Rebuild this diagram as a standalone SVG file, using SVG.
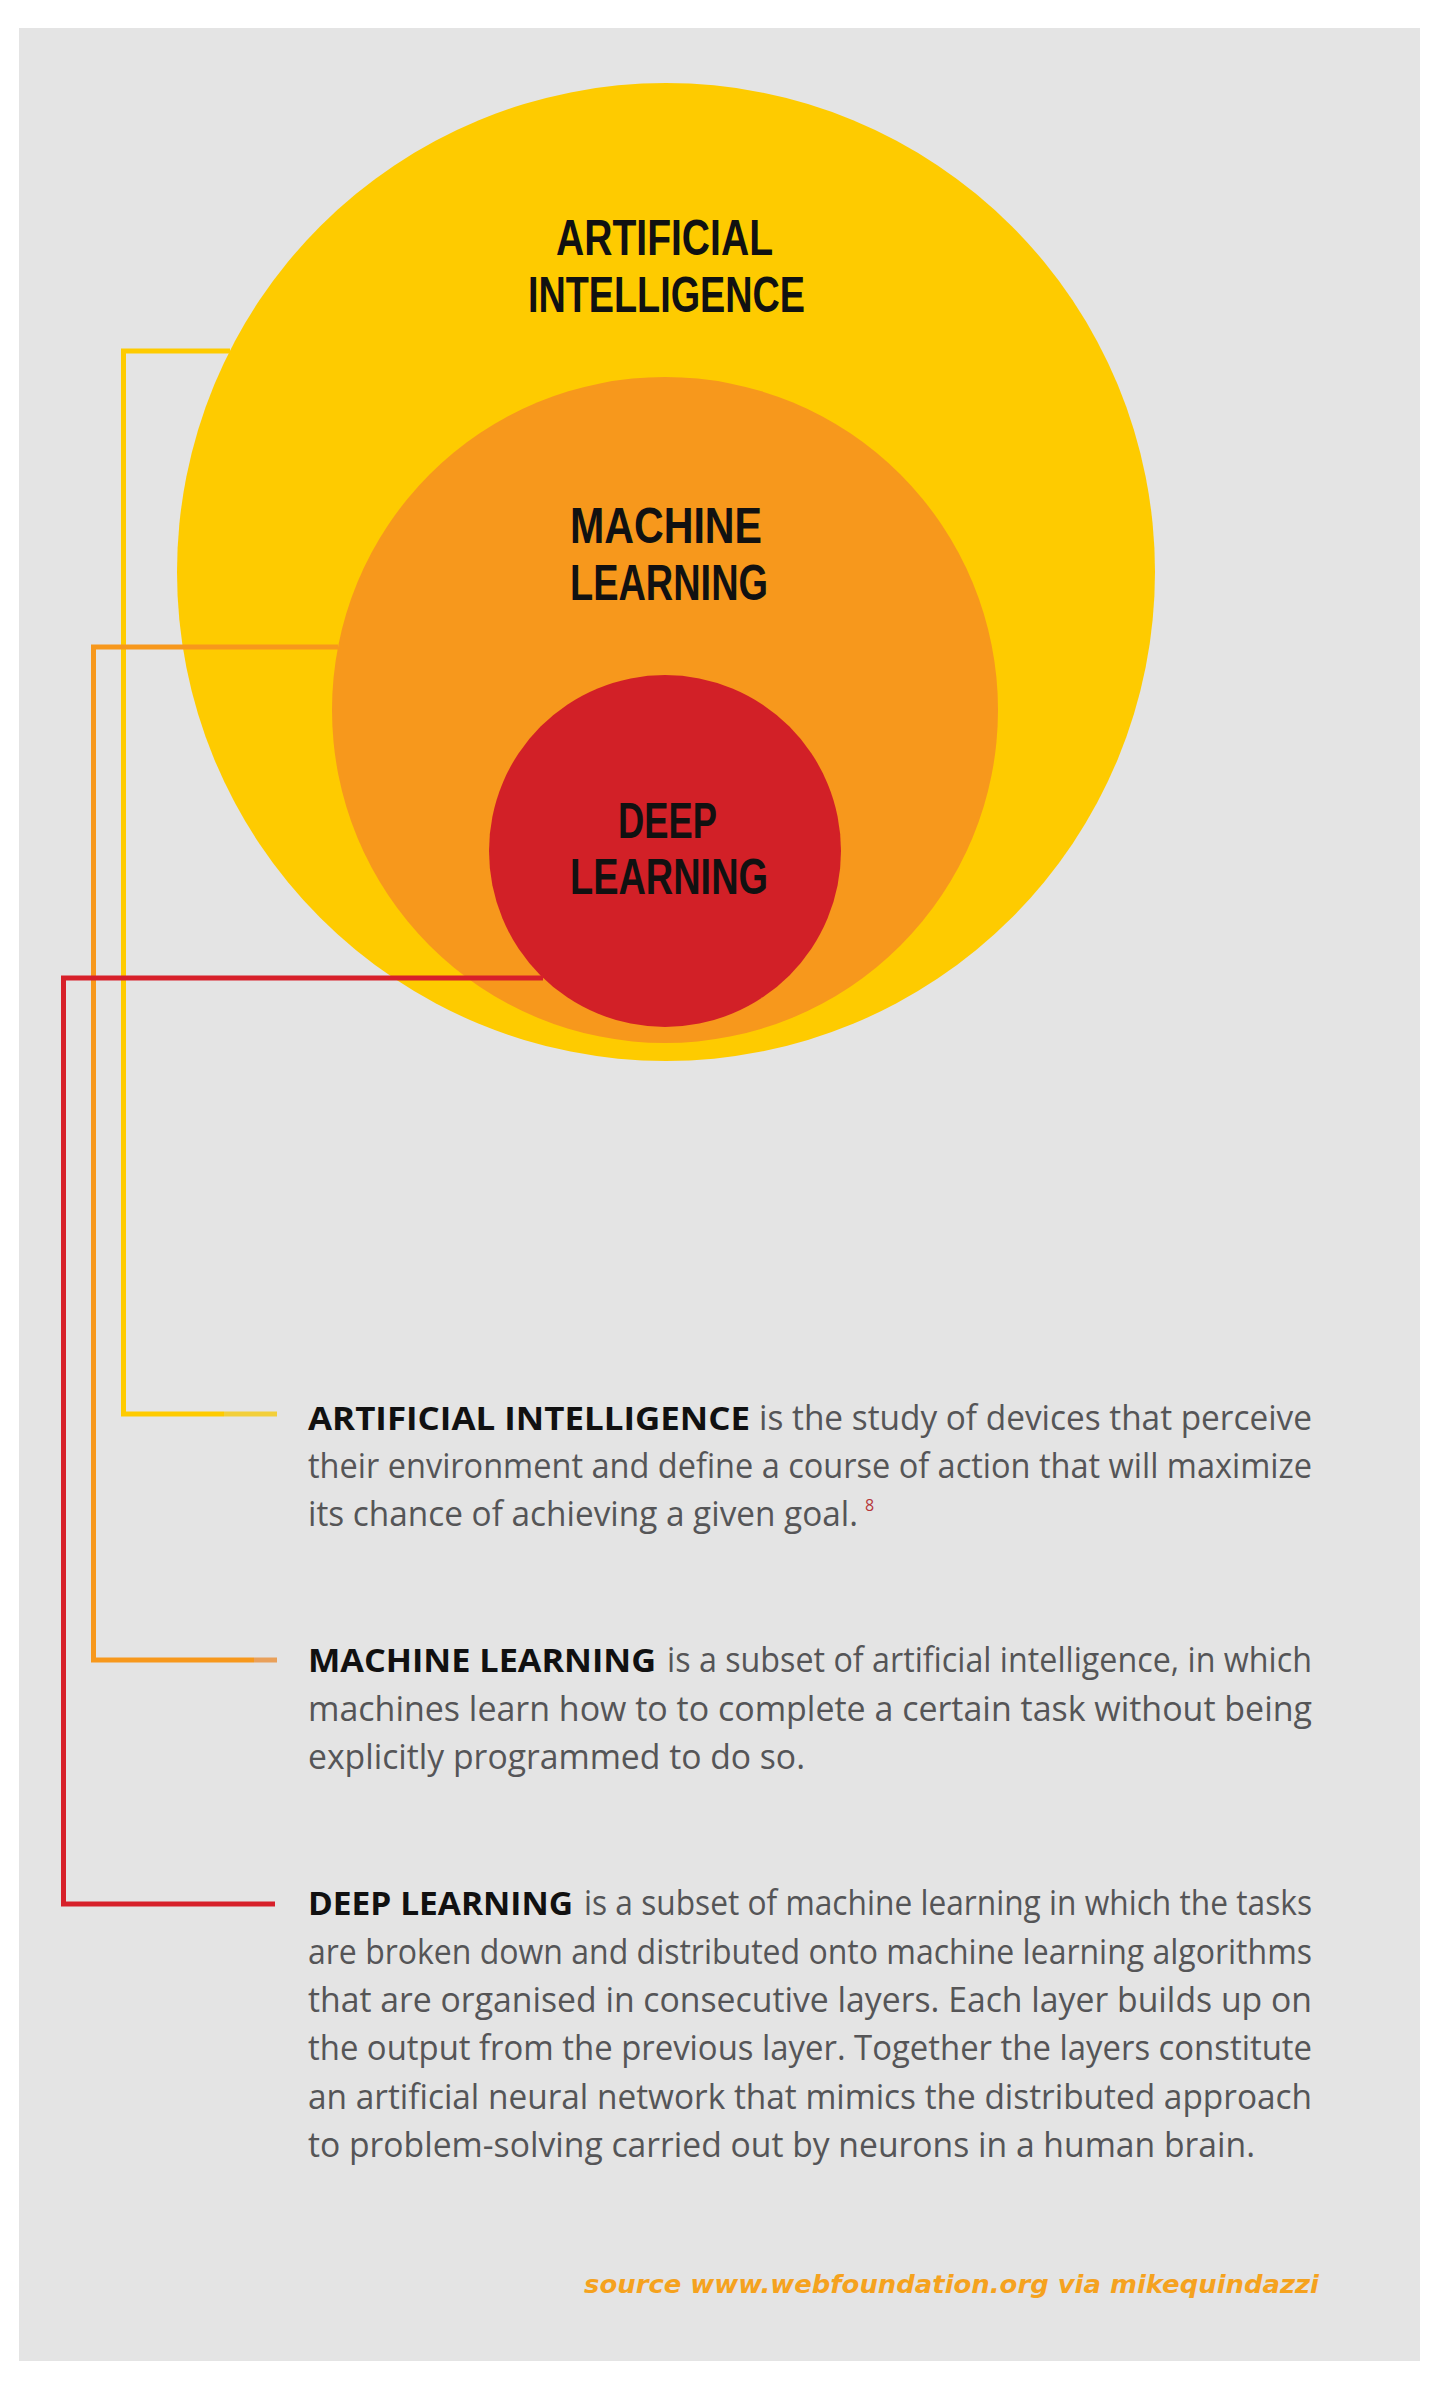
<svg xmlns="http://www.w3.org/2000/svg" width="1440" height="2385" viewBox="0 0 1440 2385">
<style>
.title{font-family:"Liberation Sans Narrow","Liberation Sans",sans-serif;font-weight:700;font-size:50px;fill:#111;}
.b{font-family:"Open Sans","Liberation Sans",sans-serif;font-weight:700;font-size:32px;fill:#111;}
.r{font-family:"Open Sans","Liberation Sans",sans-serif;font-weight:400;font-size:34px;fill:#555557;}
.sup{font-family:"Open Sans","Liberation Sans",sans-serif;font-size:16px;fill:#B5363A;}
.src{font-family:"DejaVu Sans","Liberation Sans",sans-serif;font-weight:700;font-style:italic;font-size:24px;fill:#F5A21E;}
.ln{fill:none;stroke-width:5;}
</style>
<rect x="0" y="0" width="1440" height="2385" fill="#ffffff"/>
<rect x="19" y="28" width="1401" height="2333" fill="#E4E4E4"/>

<g id="node-ai">
<circle cx="666" cy="572" r="489" fill="#FECB00"/>
<text class="title"><tspan x="556" y="255" textLength="217" lengthAdjust="spacingAndGlyphs">ARTIFICIAL</tspan><tspan x="528" y="312" textLength="277" lengthAdjust="spacingAndGlyphs">INTELLIGENCE</tspan></text>
</g>
<g id="node-ml">
<circle cx="665" cy="710" r="333" fill="#F7981C"/>
<text class="title"><tspan x="570" y="543" textLength="192" lengthAdjust="spacingAndGlyphs">MACHINE</tspan><tspan x="570" y="600" textLength="198" lengthAdjust="spacingAndGlyphs">LEARNING</tspan></text>
</g>
<g id="node-dl">
<circle cx="665" cy="851" r="176" fill="#D22027"/>
<text class="title"><tspan x="618" y="838" textLength="99" lengthAdjust="spacingAndGlyphs">DEEP</tspan><tspan x="570" y="894" textLength="198" lengthAdjust="spacingAndGlyphs">LEARNING</tspan></text>
</g>

<g id="connectors">
<polyline class="ln" stroke="#FECB00" points="230,351 123.5,351 123.5,1414 224,1414"/>
<line class="ln" stroke="#F2CF3A" x1="224" y1="1414" x2="277" y2="1414"/>
<polyline class="ln" stroke="#F7981C" points="338,647 93.5,647 93.5,1660 254,1660"/>
<line class="ln" stroke="#E9A05A" x1="254" y1="1660" x2="277" y2="1660"/>
<polyline class="ln" stroke="#D7202A" points="543,978 63.5,978 63.5,1904 275,1904"/>
</g>

<g id="desc-ai">
<text class="b" x="308" y="1430" textLength="442" lengthAdjust="spacingAndGlyphs">ARTIFICIAL INTELLIGENCE</text>
<text class="r" x="759" y="1430" textLength="553" lengthAdjust="spacingAndGlyphs">is the study of devices that perceive</text>
<text class="r" x="308" y="1478" textLength="1004" lengthAdjust="spacingAndGlyphs">their environment and define a course of action that will maximize</text>
<text class="r" x="308" y="1526" textLength="550" lengthAdjust="spacingAndGlyphs">its chance of achieving a given goal.</text>
<text class="sup" x="865" y="1511">8</text>
</g>

<g id="desc-ml">
<text class="b" x="308" y="1672" textLength="348" lengthAdjust="spacingAndGlyphs">MACHINE LEARNING</text>
<text class="r" x="667" y="1672" textLength="645" lengthAdjust="spacingAndGlyphs">is a subset of artificial intelligence, in which</text>
<text class="r" x="308" y="1721" textLength="1004" lengthAdjust="spacingAndGlyphs">machines learn how to to complete a certain task without being</text>
<text class="r" x="308" y="1769" textLength="497" lengthAdjust="spacingAndGlyphs">explicitly programmed to do so.</text>
</g>

<g id="desc-dl">
<text class="b" x="308" y="1915" textLength="265" lengthAdjust="spacingAndGlyphs">DEEP LEARNING</text>
<text class="r" x="584" y="1915" textLength="728" lengthAdjust="spacingAndGlyphs">is a subset of machine learning in which the tasks</text>
<text class="r" x="308" y="1964" textLength="1004" lengthAdjust="spacingAndGlyphs">are broken down and distributed onto machine learning algorithms</text>
<text class="r" x="308" y="2012" textLength="1004" lengthAdjust="spacingAndGlyphs">that are organised in consecutive layers. Each layer builds up on</text>
<text class="r" x="308" y="2060" textLength="1004" lengthAdjust="spacingAndGlyphs">the output from the previous layer. Together the layers constitute</text>
<text class="r" x="308" y="2109" textLength="1004" lengthAdjust="spacingAndGlyphs">an artificial neural network that mimics the distributed approach</text>
<text class="r" x="308" y="2157" textLength="947" lengthAdjust="spacingAndGlyphs">to problem-solving carried out by neurons in a human brain.</text>
</g>

<g id="source">
<text class="src" x="584" y="2293" textLength="735" lengthAdjust="spacingAndGlyphs">source www.webfoundation.org via mikequindazzi</text>
</g>
</svg>
